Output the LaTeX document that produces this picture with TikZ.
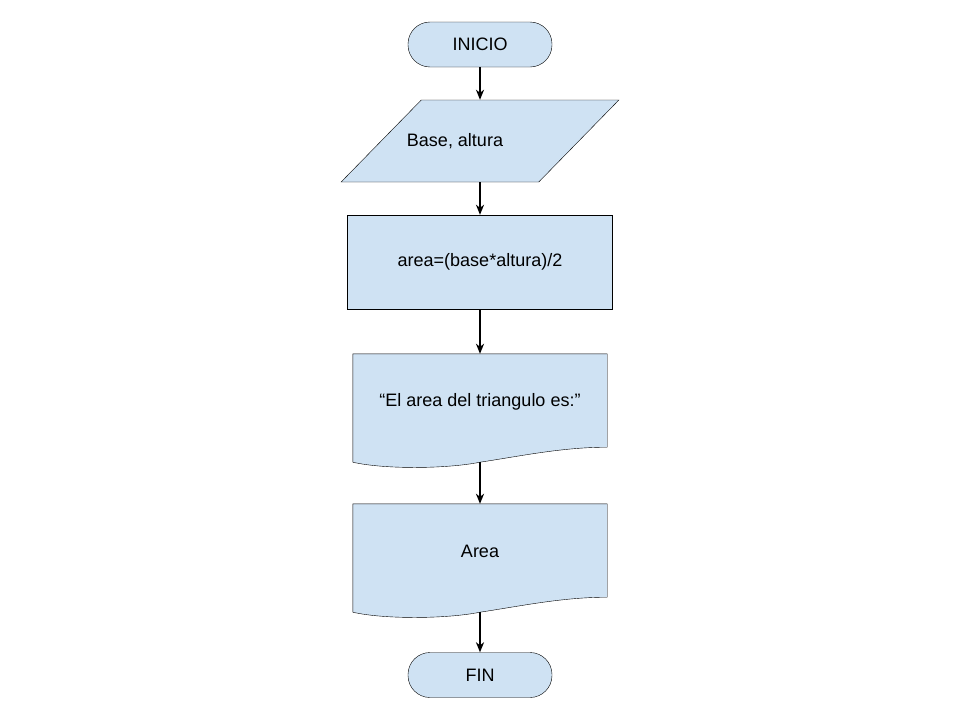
\documentclass[tikz,border=0pt]{standalone}
\usepackage{fontspec}
\setmainfont{Liberation Sans}
\usetikzlibrary{arrows.meta}
\usetikzlibrary{shapes.geometric}
\definecolor{Fcolor}{HTML}{cfe2f3}
\tikzstyle{terminal} = [rectangle, rounded corners=22pt, minimum width=144pt, minimum height=45pt, text centered, draw=black, fill=Fcolor]
\tikzstyle{entrada} = [trapezium, trapezium left angle=55.7, trapezium right angle=124.3, trapezium stretches=true, minimum width=278pt, minimum height=82pt, draw=black, fill=Fcolor]
\tikzstyle{process} = [rectangle, minimum width=265pt, minimum height=94pt, text centered, draw=black, fill=Fcolor]
\tikzstyle{documento} = [rectangle, minimum width=254pt, minimum height=108pt, inner sep=0pt]
\tikzstyle{arrow} = [line width=1.6pt, -{Stealth[length=10pt, width=8pt, inset=3pt]}]

\begin{document}
\begin{tikzpicture}[x=1pt, y=-1pt, font=\fontsize{18}{22}\selectfont]

\useasboundingbox (0,0) rectangle (960,720);

\node (inicio) [terminal] at (480,44.5) {INICIO};
\node (datos) [entrada] at (480,141) {};
\node (datostexto) at ([xshift=-25pt]datos.center) {Base, altura};
\node (calculo) [process] at (480,262) {area=(base*altura)/2};
\node (doc1) [documento] at (480,408) {};
\node (doc2) [documento] at (480,558) {};
\node (fin) [terminal] at (480,675) {FIN};

% documentos con borde ondulado
\foreach \d in {doc1, doc2} {
  \draw[fill=Fcolor] (\d.north west) -- (\d.north east) -- ([yshift=15pt]\d.south east)
    .. controls ([xshift=-45pt, yshift=15pt]\d.south east) and ([xshift=40pt, yshift=6pt]\d.south) .. (\d.south)
    .. controls ([xshift=-35pt, yshift=-7pt]\d.south) and ([xshift=30pt, yshift=-7pt]\d.south west) .. (\d.south west)
    -- cycle;
}
\node (doc1texto) at ([yshift=6pt]doc1.center) {``El area del triangulo es:''};
\node (doc2texto) at ([yshift=7pt]doc2.center) {Area};

\draw [arrow] (inicio) -- (datos);
\draw [arrow] (datos) -- (calculo);
\draw [arrow] (calculo) -- (doc1);
\draw [arrow] (doc1.south) -- (doc2.north);
\draw [arrow] (doc2.south) -- (fin);

\end{tikzpicture}
\end{document}
